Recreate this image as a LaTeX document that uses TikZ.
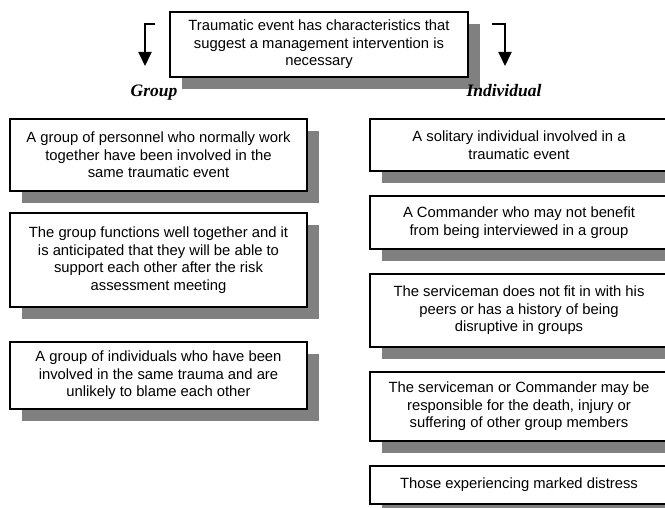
\documentclass[tikz,border=0pt]{standalone}
\usepackage{fontspec}
\setmainfont{Liberation Sans}
\newfontfamily\labelfont{Liberation Serif}
\usetikzlibrary{shadows,arrows.meta}
\definecolor{shadowgray}{HTML}{808080}
\tikzset{
  card/.style={draw=black, line width=1.8pt, fill=white, inner sep=0pt, align=center,
    font=\fontsize{14.8}{17.5}\selectfont,
    drop shadow={shadow xshift=12pt, shadow yshift=-12pt, fill=shadowgray, opacity=1}},
  sidelabel/.style={font=\labelfont\bfseries\itshape\fontsize{17.5}{20}\selectfont, anchor=base, inner sep=0pt},
  flowarrow/.style={line width=2pt, -{Triangle[length=14pt,width=13pt]}}
}
\begin{document}
\begin{tikzpicture}[x=1pt,y=-1pt]
\useasboundingbox (0,0) rectangle (665,508);
\clip (0,0) rectangle (665,508);
\fill[white] (0,0) rectangle (665,508);

\node[card, minimum width=298pt, minimum height=65pt] (top) at (319,44.5)
  {Traumatic event has characteristics that\\suggest a management intervention is\\necessary};

\coordinate (lstart) at (155,24);
\coordinate (lend) at (145,66);
\coordinate (rstart) at (492,24);
\coordinate (rend) at (505,66);
\draw[flowarrow] (lstart) -| (lend);
\draw[flowarrow] (rstart) -| (rend);

\node[sidelabel] (group) at (154,97) {Group};
\node[sidelabel] (indiv) at (504,97) {Individual};

\node[card, minimum width=297pt, minimum height=72pt] (l1) at (158.5,155)
  {A group of personnel who normally work\\together have been involved in the\\same traumatic event};
\node[card, minimum width=297pt, minimum height=94pt] (l2) at (158.5,260)
  {The group functions well together and it\\is anticipated that they will be able to\\support each other after the risk\\assessment meeting};
\node[card, minimum width=297pt, minimum height=67pt] (l3) at (158.5,375.5)
  {A group of individuals who have been\\involved in the same trauma and are\\unlikely to blame each other};

\node[card, minimum width=298pt, minimum height=52pt] (r1) at (519,145)
  {A solitary individual involved in a\\traumatic event};
\node[card, minimum width=298pt, minimum height=53pt] (r2) at (519,222.5)
  {A Commander who may not benefit\\from being interviewed in a group};
\node[card, minimum width=298pt, minimum height=73pt] (r3) at (519,310.5)
  {The serviceman does not fit in with his\\peers or has a history of being\\disruptive in groups};
\node[card, minimum width=298pt, minimum height=69pt] (r4) at (519,406.5)
  {The serviceman or Commander may be\\responsible for the death, injury or\\suffering of other group members};
\node[card, minimum width=298pt, minimum height=38pt] (r5) at (519,485)
  {Those experiencing marked distress};
\end{tikzpicture}
\end{document}
